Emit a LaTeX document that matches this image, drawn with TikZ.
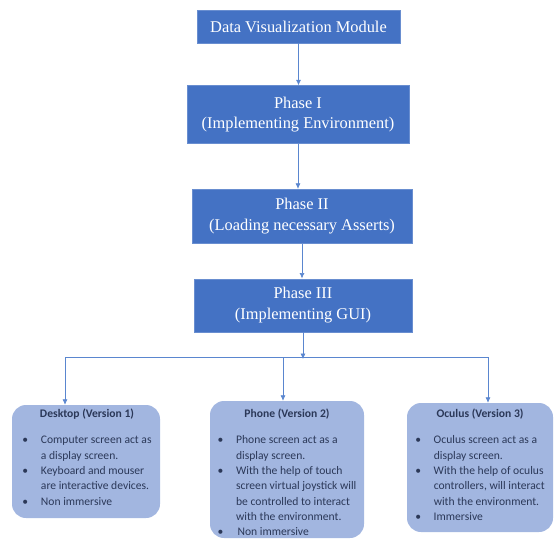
\documentclass[tikz,border=0pt]{standalone}
\usepackage{fontspec}
\setmainfont{Liberation Serif}
\newfontfamily\boxfont{Carlito}
\usepackage{xcolor}
\usepackage{tikz}
\usetikzlibrary{arrows.meta}
\usetikzlibrary{shapes,arrows,positioning}
\definecolor{phaseblue}{HTML}{4472C4}
\definecolor{versionblue}{HTML}{A2B6E0}
\definecolor{versiontext}{HTML}{2B3858}
\definecolor{lineblue}{HTML}{5A86CF}
\tikzset{flow-line/.style={line width=0.7pt, color=lineblue}}
\tikzset{>={Latex[length=5.5pt, width=5pt]}}
\tikzset{phase-node/.style={fill=phaseblue, draw=phaseblue!80!white, line width=0.6pt, inner sep=0, text=white, align=center, font=\fontsize{16.4}{20.5}\selectfont}}
\tikzset{version-box/.style={fill=versionblue, inner sep=0, rounded corners=14pt}}
\tikzset{version-text/.style={inner sep=0, anchor=north, text=versiontext, align=center, font=\boxfont\fontsize{11.6}{15.3}\selectfont}}

\begin{document}
\begin{tikzpicture}[x=1pt, y=-1pt]
            \useasboundingbox (0,0) rectangle (554,540);

            \node[phase-node, minimum width=203pt, minimum height=33pt] (module) at (298.5,26.5) {Data Visualization Module};
            \node[phase-node, minimum width=222pt, minimum height=58pt, below=42pt of module, xshift=-0.5pt] (phase1) {Phase I\\(Implementing Environment)};
            \node[phase-node, minimum width=220pt, minimum height=54pt, below=45pt of phase1, xshift=4pt] (phase2) {Phase II\\(Loading necessary Asserts)};
            \node[phase-node, minimum width=218pt, minimum height=53pt, below=35pt of phase2, xshift=1pt] (phase3) {Phase III\\(Implementing GUI)};

            \coordinate[below=27pt of phase3] (split);
            \coordinate (bus-left) at (65,357);
            \coordinate (bus-mid) at (283,357);
            \coordinate (bus-right) at (488,357);

            \node[version-box, minimum width=148pt, minimum height=113pt] (desktop) at (86,461.5) {};
            \node[version-box, minimum width=154pt, minimum height=137pt] (phone) at (287,469.5) {};
            \node[version-box, minimum width=146pt, minimum height=129pt] (oculus) at (480,467.5) {};

            \node[version-text, below=4pt of desktop.north, xshift=1pt] (desktop-text) {{\bfseries Desktop (Version 1)}\\[11pt]
                \begin{tabular}[t]{@{}p{18.5pt}@{}l@{}}
                    \textbullet & Computer screen act as\\
                                & a display screen.\\
                    \textbullet & Keyboard and mouser\\
                                & are interactive devices.\\
                    \textbullet & Non immersive
                \end{tabular}};
            \node[version-text, below=8pt of phone.north] (phone-text) {{\bfseries Phone (Version 2)}\\[11pt]
                \begin{tabular}[t]{@{}p{18.5pt}@{}l@{}}
                    \textbullet & Phone screen act as a\\
                                & display screen.\\
                    \textbullet & With the help of touch\\
                                & screen virtual joystick will\\
                                & be controlled to interact\\
                                & with the environment.\\
                    \textbullet & \hspace{1.5pt}Non immersive
                \end{tabular}};
            \node[version-text, below=6pt of oculus.north] (oculus-text) {{\bfseries Oculus (Version 3)}\\[11pt]
                \begin{tabular}[t]{@{}p{18.5pt}@{}l@{}}
                    \textbullet & Oculus screen act as a\\
                                & display screen.\\
                    \textbullet & With the help of oculus\\
                                & controllers, will interact\\
                                & with the environment.\\
                    \textbullet & Immersive
                \end{tabular}};

            \draw[->, flow-line] (module.south) -- (module.south |- phase1.north);
            \draw[->, flow-line] (phase1.south) -- (phase1.south |- phase2.north);
            \draw[->, flow-line] (phase2.south) -- (phase2.south |- phase3.north);
            \draw[->, flow-line] (phase3.south) -- (split);

            \draw[flow-line] (bus-left) -- (bus-right);
            \draw[->, flow-line] (bus-left) -- (bus-left |- desktop.north);
            \draw[->, flow-line] (bus-mid) -- (bus-mid |- phone.north);
            \draw[->, flow-line] (bus-right) -- (bus-right |- oculus.north);

        \end{tikzpicture}
\end{document}
